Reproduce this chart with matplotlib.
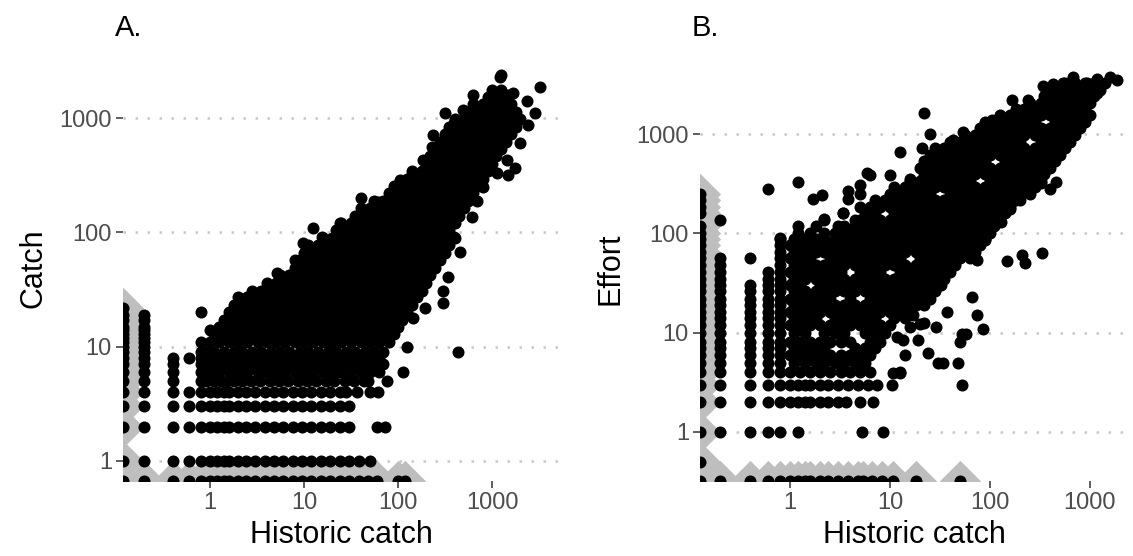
import matplotlib
matplotlib.use("Agg")
import matplotlib.pyplot as plt
import numpy as np

plt.rcParams['font.family'] = ['Liberation Sans', 'DejaVu Sans']

W, H = 1133, 556

# ---------------- Panel A: historic catch (x) vs catch (y) ----------------
a_low_rows = [
    (0, [0, 0.2, 0.4, 0.6, 0.8, 1, 1.2, 1.4, 1.6, 2, 2.4, 3, 3.8, 4.8, 6, 7.6, 9.6, 12, 15, 19, 24, 30, 38, 48, 60, 100, 118]),
    (1, [0, 0.2, 0.4, 0.6, 0.8, 1, 1.2, 1.4, 1.6, 2, 2.4, 3, 3.8, 4.8, 6, 7.6, 9.6, 12, 15, 19, 24, 30, 38, 50]),
    (2, [0, 0.2, 0.4, 0.6, 0.8, 1, 1.2, 1.4, 1.6, 2, 2.4, 3, 3.8, 4.8, 6, 7.6, 9.6, 12, 15, 19, 24, 30, 60, 73]),
    (3, [0, 0.2, 0.4, 0.6, 0.8, 1, 1.2, 1.4, 1.6, 2, 2.4, 3, 3.8, 4.8, 6, 7.6, 9.6, 12, 15, 19, 24, 30]),
    (4, [0, 0.2, 0.4, 0.6, 0.8, 1, 1.2, 1.4, 1.6, 2, 2.4, 3, 3.8, 4.8, 6, 7.6, 9.6, 12, 15, 19, 24, 28, 37, 50, 61]),
    (5, [0, 0.2, 0.4, 0.8, 0.9, 1.1, 1.3, 1.5, 1.8, 2.2, 2.7, 3.4, 4.3, 5.4, 6.8, 8.6, 10.8, 13.5, 17, 21, 27, 34, 43, 48, 76]),
]
a_edge_cols = [
    (0, [6, 7, 8, 9, 10, 11, 12, 13, 14, 15, 17, 19, 22]),
    (0.2, [6, 7, 8, 9, 10, 11, 12, 13, 14, 15, 17, 19]),
    (0.4, [6, 7, 8]),
    (0.6, [8]),
]
a_cloud_rows = [
    (6, [0.8, 1, 1.25, 1.6, 2, 2.5, 3.2, 4, 5, 6.3, 8, 10, 12.5, 16, 20, 25, 32, 40, 50, 63, 113]),
    (7, [0.8, 0.9, 1.1, 1.4, 1.8, 2.2, 2.8, 3.5, 4.5, 5.6, 7, 9, 11, 14, 18, 22, 28, 35, 45, 56, 70]),
    (8, [0.8, 1, 1.25, 1.6, 2, 2.5, 3.2, 4, 5, 6.3, 8, 10, 12.5, 16, 20, 25, 32, 40, 50, 63]),
    (9, [0.8, 0.9, 1.1, 1.4, 1.8, 2.2, 2.8, 3.5, 4.5, 5.6, 7, 9, 11, 14, 18, 22, 28, 35, 45, 56, 70, 440]),
    (11, [0.8, 1, 1.25, 1.6, 2, 2.5, 3.2, 4, 5, 6.3, 8, 10, 12.5, 16, 20, 25, 32, 40, 50, 63, 80]),
    (13, [1.1, 1.4, 1.8, 2.2, 2.8, 3.5, 4.5, 5.6, 7, 9, 11, 14, 18, 22, 28, 35, 45, 56, 70, 90]),
    (15, [1.25, 1.6, 2, 2.5, 3.2, 4, 5, 6.3, 8, 10, 12.5, 16, 20, 25, 32, 40, 50, 63, 80, 100]),
    (17, [1.4, 1.8, 2.2, 2.8, 3.5, 4.5, 5.6, 7, 9, 11, 14, 18, 22, 28, 35, 45, 56, 70, 90, 110]),
    (20, [1.6, 2, 2.5, 3.2, 4, 5, 6.3, 8, 10, 12.5, 16, 20, 25, 32, 40, 50, 63, 80, 100, 125]),
    (23, [1.8, 2.2, 2.8, 3.5, 4.5, 5.6, 7, 9, 11, 14, 18, 22, 28, 35, 45, 56, 70, 90, 110, 140]),
    (27, [2, 2.5, 3.2, 4, 5, 6.3, 8, 10, 12.5, 16, 20, 25, 32, 40, 50, 63, 80, 100, 125, 160]),
    (31, [2.8, 3.5, 4.5, 5.6, 7, 9, 11, 14, 18, 22, 28, 35, 45, 56, 70, 90, 110, 140, 180]),
    (36, [4, 5, 6.3, 8, 10, 12.5, 16, 20, 25, 32, 40, 50, 63, 80, 100, 125, 160, 200]),
    (42, [5.6, 7, 9, 11, 14, 18, 22, 28, 35, 45, 56, 70, 90, 110, 140, 180, 220]),
    (49, [8, 10, 12.5, 16, 20, 25, 32, 40, 50, 63, 80, 100, 125, 160, 200, 250]),
    (57, [9, 11, 14, 18, 22, 28, 35, 45, 56, 70, 90, 110, 140, 180, 220, 280]),
    (66, [10, 12.5, 16, 20, 25, 32, 40, 50, 63, 80, 100, 125, 160, 200, 250, 320]),
    (77, [11, 14, 18, 22, 28, 35, 45, 56, 70, 90, 110, 140, 180, 220, 280, 350]),
    (89, [16, 20, 25, 32, 40, 50, 63, 80, 100, 125, 160, 200, 250, 320, 400]),
    (104, [22, 28, 35, 45, 56, 70, 90, 110, 140, 180, 220, 280, 350]),
    (120, [25, 32, 40, 50, 63, 80, 100, 125, 160, 200, 250, 320, 400]),
    (140, [35, 45, 56, 70, 90, 110, 140, 180, 220, 280, 350, 450]),
    (162, [40, 50, 63, 80, 100, 125, 160, 200, 250, 320, 400, 500]),
    (188, [56, 70, 90, 110, 140, 180, 220, 280, 350, 450, 560]),
    (219, [80, 100, 125, 160, 200, 250, 320, 400, 500, 630]),
    (254, [90, 110, 140, 180, 220, 280, 350, 450, 560, 700]),
    (295, [125, 160, 200, 250, 320, 400, 500, 630, 800]),
    (343, [140, 180, 220, 280, 350, 450, 560, 700, 900]),
    (398, [200, 250, 320, 400, 500, 630, 800, 1000]),
    (462, [220, 280, 350, 450, 560, 700, 900, 1100]),
    (537, [250, 320, 400, 500, 630, 800, 1000, 1250]),
    (624, [280, 350, 450, 560, 700, 900, 1100, 1400]),
    (724, [320, 400, 500, 630, 800, 1000, 1250, 1600]),
    (841, [350, 450, 560, 700, 900, 1100, 1400, 1800]),
    (977, [400, 500, 630, 800, 1000, 1250, 1600, 2000]),
    (1135, [560, 700, 900, 1100, 1400, 1800]),
    (1318, [630, 800, 1000, 1250, 1600]),
    (1531, [900, 1100, 1400]),
    (1778, [1000, 1250]),
]
a_extra_x = [0.8, 1, 1.1, 2.2, 3.2, 5.2, 5.5, 8, 9.8, 12.5, 15.5, 24, 35, 40, 61, 86, 105, 134, 185, 236,
             230, 316, 420, 390, 490, 650, 630, 950, 1070, 1230, 1260, 1480, 1660, 2350, 3240, 2880, 2400,
             2000, 1750, 1480, 1130, 1450, 1230, 800, 690, 615, 460, 390, 340, 300, 300, 195, 145, 125, 60]
a_extra_y = [20, 14, 12, 26, 22, 44, 31, 57, 80, 110, 91, 120, 120, 200, 185, 225, 290, 300, 430, 710,
             560, 1100, 880, 910, 1180, 1300, 1590, 1260, 1660, 2290, 2400, 1600, 1660, 1400, 1880, 1100, 870,
             600, 365, 320, 330, 430, 550, 250, 190, 135, 67, 91, 41, 31, 24, 22, 18, 10, 7]

# ---------------- Panel B: historic catch (x) vs effort (y) ----------------
b_low_rows = [
    (0, [0, 0.2, 0.4, 0.6, 0.8, 1, 1.2, 1.4, 1.6, 2, 2.4, 3, 3.8, 4.8, 5.4, 6.6, 8.4, 10.6, 18.4, 50]),
    (0.5, [0]),
    (1, [0, 0.2, 0.4, 0.6, 0.8, 1.2, 5.2, 8.6]),
    (2, [0, 0.2, 0.4, 0.6, 0.8, 1, 1.2, 1.4, 1.6, 2, 2.4, 3, 3.6, 5, 6.8]),
    (3, [0, 0.2, 0.4, 0.6, 0.8, 1, 1.2, 1.4, 1.6, 2, 2.4, 3, 3.8, 4.8, 6, 7.4, 10.4, 52]),
]
b_edge_cols = [
    (0, [4, 5, 6, 7, 8, 10, 12, 14, 16, 19, 22, 26, 30, 35, 41, 48, 56, 65, 76, 88, 100, 118, 160, 185, 215, 250]),
    (0.2, [4, 5, 6, 7, 8, 10, 12, 14, 16, 19, 22, 26, 30, 35, 41, 48, 56, 135]),
    (0.4, [4, 5, 6, 7, 8, 10, 12, 14, 16, 19, 22, 26, 30, 56]),
    (0.6, [4, 5, 6, 7, 8, 10, 12, 14, 16, 19, 22, 26, 30, 35, 41, 280]),
]
b_cloud_rows = [
    (4, [0.8, 1, 1.25, 1.6, 2, 2.5, 3.2, 4, 5, 6.3, 12.6]),
    (5, [0.8, 1.1, 1.4, 1.8, 2.2, 2.8, 3.5, 4.5, 5.6]),
    (6, [0.8, 1, 1.25, 1.6, 2, 2.5, 3.2, 4, 5, 6.3]),
    (7, [0.8, 1.1, 1.4, 1.8, 2.2, 4.5, 5.6, 7]),
    (8, [0.8, 1, 1.25, 1.6, 2, 2.5, 3.2, 4, 6.3, 8]),
    (10, [0.8, 1.1, 1.4, 2.2, 2.8, 3.5, 5.6, 7, 9]),
    (12, [0.8, 1, 1.25, 1.6, 2, 2.5, 3.2, 4, 5, 6.3, 8, 10]),
    (14, [0.8, 1.1, 1.4, 1.8, 2.8, 3.5, 4.5, 5.6, 7, 11, 14]),
    (16, [0.8, 1, 1.25, 1.6, 2, 2.5, 3.2, 4, 5, 6.3, 8, 10, 12.5, 16]),
    (19, [0.8, 1.1, 1.4, 1.8, 2.2, 2.8, 3.5, 4.5, 5.6, 7, 9, 11, 14, 18, 22]),
    (22, [0.8, 1, 1.25, 1.6, 2, 2.5, 4, 6.3, 8, 10, 12.5, 16, 20, 25]),
    (26, [0.8, 1.1, 1.4, 1.8, 2.2, 2.8, 3.5, 4.5, 5.6, 7, 9, 11, 14, 18, 22, 28]),
    (30, [0.8, 1, 1.25, 2, 2.5, 3.2, 4, 5, 6.3, 8, 10, 12.5, 16, 20, 25, 32]),
    (35, [0.8, 1.1, 1.4, 1.8, 2.2, 2.8, 3.5, 4.5, 5.6, 7, 9, 11, 14, 18, 22, 28, 35]),
    (41, [0.8, 1, 1.25, 1.6, 2, 2.5, 3.2, 5, 6.3, 8, 12.5, 16, 20, 25, 32, 40]),
    (48, [0.8, 1.1, 1.4, 1.8, 2.2, 2.8, 3.5, 4.5, 5.6, 7, 9, 11, 14, 18, 22, 28, 35, 45]),
    (56, [0.8, 1, 1.25, 1.6, 2.5, 3.2, 4, 5, 6.3, 8, 10, 12.5, 20, 25, 32, 40, 50, 63]),
    (65, [0.8, 1.1, 1.4, 1.8, 2.2, 2.8, 3.5, 4.5, 5.6, 7, 9, 11, 14, 18, 22, 28, 35, 45, 56, 70]),
    (76, [0.8, 1, 1.25, 1.6, 2, 2.5, 3.2, 4, 5, 6.3, 8, 10, 12.5, 16, 20, 25, 32, 40, 50, 63, 80]),
    (88, [0.8, 1.1, 1.4, 1.8, 2.2, 2.8, 3.5, 4.5, 5.6, 7, 9, 11, 14, 18, 22, 28, 35, 45, 56, 70, 90]),
    (100, [1.2, 1.6, 2.2, 2.8, 3.2, 4, 5, 6.3, 8, 10, 12.5, 16, 20, 25, 32, 40, 50, 63, 80, 100]),
    (118, [1.8, 3.5, 4.5, 5.6, 7, 9, 11, 14, 18, 22, 28, 35, 45, 56, 70, 90, 110]),
    (137, [4.5, 5, 6.3, 8, 10, 12.5, 16, 20, 25, 32, 40, 50, 63, 80, 100, 125]),
    (160, [5.6, 7, 11, 14, 18, 22, 28, 35, 45, 56, 70, 90, 110, 140]),
    (185, [5, 6.3, 8, 10, 12.5, 16, 20, 25, 32, 40, 50, 63, 80, 100, 125, 160]),
    (215, [7, 9, 11, 14, 18, 22, 28, 35, 45, 56, 70, 90, 110, 140, 180]),
    (250, [5, 10, 12.5, 16, 20, 25, 40, 50, 63, 80, 100, 125, 160, 200, 250]),
    (290, [11, 14, 18, 22, 28, 35, 45, 56, 70, 90, 110, 140, 180, 220, 280]),
    (340, [16, 20, 25, 32, 40, 50, 63, 100, 125, 160, 200, 250, 320]),
    (395, [22, 28, 35, 45, 56, 70, 90, 110, 140, 180, 220, 280, 350]),
    (460, [20, 25, 32, 40, 50, 63, 80, 100, 125, 160, 200, 250, 320, 400]),
    (535, [22, 28, 35, 45, 56, 70, 90, 140, 180, 220, 280, 350, 450]),
    (620, [25, 32, 40, 50, 63, 80, 100, 125, 160, 200, 250, 320, 400, 500]),
    (720, [28, 35, 45, 56, 70, 90, 110, 140, 180, 220, 280, 350, 450, 560]),
    (840, [40, 50, 63, 80, 100, 125, 160, 200, 320, 400, 500, 630]),
    (980, [56, 70, 90, 110, 140, 180, 220, 280, 350, 450, 560, 700]),
    (1140, [80, 100, 125, 160, 200, 250, 320, 400, 500, 630, 800]),
    (1320, [90, 110, 140, 180, 220, 280, 450, 560, 700, 900]),
    (1540, [125, 160, 200, 250, 320, 400, 500, 630, 800, 1000]),
    (1790, [180, 220, 280, 350, 450, 560, 700, 900]),
    (2080, [250, 320, 400, 500, 630, 800, 1000]),
    (2420, [350, 450, 560, 700, 900, 1100]),
    (2810, [400, 500, 630, 800, 1000, 1250]),
    (3270, [560, 700, 900, 1100, 1400]),
]
b_extra_x = [1.2, 1.7, 2.1, 2.2, 3.8, 3.8, 3.4, 3, 1.2, 5.9, 6.3, 10, 12.6, 5, 22, 25, 21, 16, 43, 54,
             104, 165, 240, 340, 430, 540, 680, 930, 1170, 1580, 1850, 1170, 630, 600, 800, 430, 410, 430,
             460, 400, 320, 200, 160, 130, 100, 330, 210, 224, 148, 89, 74, 66, 74, 86, 52, 57, 50, 48,
             30, 34, 24, 29, 22, 19, 14, 12.6, 10.7, 13.5, 11.7, 16, 20, 17, 28, 37, 0.8, 2.2, 3.4]
b_extra_y = [330, 220, 245, 135, 265, 220, 160, 118, 118, 410, 390, 390, 660, 310, 1630, 1000, 720, 355, 870, 1050,
             1380, 2180, 2230, 3050, 3200, 3250, 3800, 3250, 3600, 3800, 3500, 2600, 2050, 1450, 1800, 1180, 870, 630,
             330, 280, 320, 215, 175, 130, 122, 63, 60, 50, 53, 85, 54, 23, 15, 11, 9.8, 9.8, 8, 5,
             5, 5, 6.2, 11.5, 12.5, 8.5, 6, 3.9, 3.9, 8.5, 9, 11.5, 12.3, 15, 27, 16, 90, 140, 160]

x_ticks = [1, 10, 100, 1000]
y_ticks = [1, 10, 100, 1000]
x_tick_labels = ['1', '10', '100', '1000']
y_tick_labels = ['1', '10', '100', '1000']


def collect(low_rows, edge_cols, cloud_rows, extra_x, extra_y):
    xs, ys = [], []
    for yv, xl in low_rows + cloud_rows:
        xs += list(xl)
        ys += [yv] * len(xl)
    for xv, yl in edge_cols:
        xs += [xv] * len(yl)
        ys += list(yl)
    xs += list(extra_x)
    ys += list(extra_y)
    return np.array(xs, float), np.array(ys, float)


def panel(ax, x, y, xlim, ylim, ylabel, tag, tag_x):
    # zero values are placed on the panel edge (like -Inf in a log scale)
    zero = (x == 0) | (y == 0)
    xp = np.where(x == 0, xlim[0], x)
    yp = np.where(y == 0, ylim[0], y)
    ax.set_xscale('log')
    ax.set_yscale('log')
    ax.set_xlim(*xlim)
    ax.set_ylim(*ylim)
    ax.scatter(xp[zero], yp[zero], marker='D', s=440, color='#BEBEBE', linewidths=0, zorder=2)
    ax.scatter(xp, yp, marker='o', s=75, color='black', linewidths=0, zorder=3)
    ax.set_xticks(x_ticks)
    ax.set_xticklabels(x_tick_labels)
    ax.set_yticks(y_ticks)
    ax.set_yticklabels(y_tick_labels)
    ax.minorticks_off()
    for s in ax.spines.values():
        s.set_visible(False)
    ax.set_axisbelow(True)
    ax.yaxis.grid(True, color='#C8C8C8', linestyle=(0, (1, 3.8)), linewidth=1.8)
    ax.xaxis.grid(False)
    ax.tick_params(axis='both', length=5, width=1.1, color='#333333',
                   labelcolor='#4D4D4D', labelsize=17, pad=3)
    ax.set_xlabel('Historic catch', fontsize=22, color='black', labelpad=4)
    ax.set_ylabel(ylabel, fontsize=22, color='black', labelpad=8)
    ax.figure.text(tag_x / W, 1 - 28 / H, tag, fontsize=21, ha='left', va='center')


fig = plt.figure(figsize=(W / 100, H / 100), dpi=100)
fig.patch.set_facecolor('white')

# panel A: pixel box left 123, right 560, top 56, bottom 481
axA = fig.add_axes([123 / W, (H - 481) / H, (560 - 123) / W, (481 - 56) / H])
xa, ya = collect(a_low_rows, a_edge_cols, a_cloud_rows, a_extra_x, a_extra_y)
panel(axA, xa, ya, (0.1186, 5290), (0.668, 3494), 'Catch', 'A.', 115)

# panel B: pixel box left 700, right 1128, top 56, bottom 481
axB = fig.add_axes([700 / W, (H - 481) / H, (1128 - 700) / W, (481 - 56) / H])
xb, yb = collect(b_low_rows, b_edge_cols, b_cloud_rows, b_extra_x, b_extra_y)
panel(axB, xb, yb, (0.1259, 2399), (0.321, 6115), 'Effort', 'B.', 692)

fig.savefig('out.png', dpi=100, facecolor='white')
